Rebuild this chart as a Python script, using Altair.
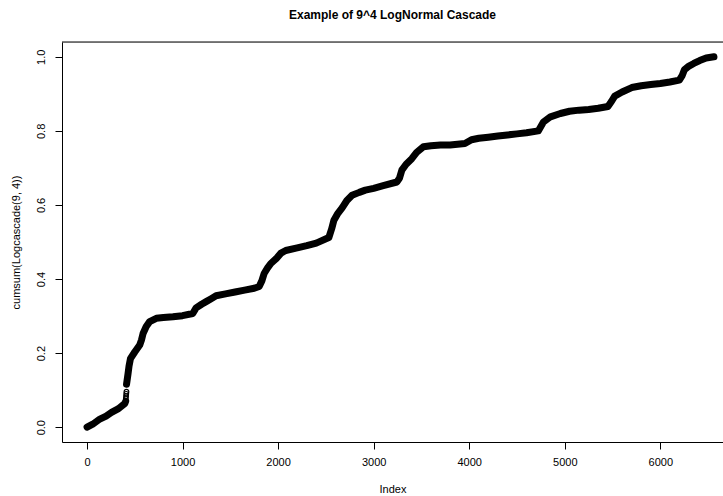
import altair as alt
import pandas as pd

# Cumulative sum (index, value)
idx_a = [1, 60, 135, 200, 257, 330, 396, 405]
val_a = [0.000, 0.008, 0.022, 0.030, 0.040, 0.050, 0.064, 0.070]

idx_jump = [407, 409, 411, 413]
val_jump = [0.078, 0.084, 0.090, 0.096]

idx_b = [414, 430, 440, 455, 500, 552, 570, 587, 620, 656, 726, 800, 900, 1000,
         1107, 1142, 1200, 1247, 1300, 1351, 1450, 1550, 1650, 1750, 1802, 1830,
         1854, 1890, 1924, 1980, 2030, 2080, 2200, 2300, 2400, 2531, 2560, 2583,
         2620, 2670, 2720, 2774, 2850, 2913, 3000, 3100, 3243, 3270, 3295, 3340,
         3399, 3450, 3521, 3600, 3700, 3800, 3955, 4024, 4101, 4200, 4300, 4400,
         4500, 4600, 4723, 4750, 4777, 4850, 4954, 5050, 5150, 5250, 5350, 5452,
         5490, 5523, 5600, 5701, 5800, 5900, 6000, 6100, 6199, 6230, 6252, 6300,
         6350, 6412, 6480, 6561]
val_b = [0.116, 0.145, 0.165, 0.185, 0.203, 0.222, 0.235, 0.253, 0.272, 0.285,
         0.294, 0.296, 0.298, 0.301, 0.307, 0.322, 0.332, 0.339, 0.347, 0.355,
         0.360, 0.365, 0.370, 0.375, 0.380, 0.395, 0.415, 0.430, 0.442, 0.455,
         0.470, 0.477, 0.484, 0.490, 0.497, 0.512, 0.535, 0.558, 0.575, 0.592,
         0.612, 0.626, 0.634, 0.640, 0.645, 0.652, 0.662, 0.672, 0.694, 0.710,
         0.725, 0.742, 0.757, 0.760, 0.762, 0.762, 0.766, 0.776, 0.780, 0.783,
         0.786, 0.789, 0.792, 0.795, 0.800, 0.812, 0.824, 0.838, 0.847, 0.853,
         0.856, 0.858, 0.861, 0.866, 0.880, 0.894, 0.905, 0.917, 0.922, 0.925,
         0.928, 0.932, 0.937, 0.950, 0.965, 0.975, 0.982, 0.990, 0.997, 1.000]

x_ticks = [0, 1000, 2000, 3000, 4000, 5000, 6000]
y_ticks = [0.0, 0.2, 0.4, 0.6, 0.8, 1.0]

title_text = "Example of 9^4 LogNormal Cascade"
x_title = "Index"
y_title = "cumsum(Logcascade(9, 4))"

line_df = pd.DataFrame({
    "Index": idx_a + idx_b,
    "value": val_a + val_b,
    "seg": ["a"] * len(idx_a) + ["b"] * len(idx_b),
})
jump_df = pd.DataFrame({"Index": idx_jump, "value": val_jump})

W, H = 661, 400
FONT = "Liberation Sans"

xscale = alt.Scale(domain=[-261.4, 6656], nice=False, zero=False)
yscale = alt.Scale(domain=[-0.04, 1.04], nice=False, zero=False)

xaxis = alt.Axis(values=x_ticks, format="d", title=x_title, grid=False,
                 domain=True, domainColor="black", domainWidth=1,
                 tickColor="black", tickSize=7, tickWidth=1,
                 labelFont=FONT, labelFontSize=11, labelColor="black",
                 labelPadding=7, labelFlush=False,
                 titleFont=FONT, titleFontSize=11, titleFontWeight="normal",
                 titleColor="black", titleY=47, titleBaseline="middle")
yaxis = alt.Axis(values=y_ticks, format=".1f", title=y_title, grid=False,
                 domain=True, domainColor="black", domainWidth=1,
                 tickColor="black", tickSize=7, tickWidth=1,
                 labelFont=FONT, labelFontSize=11, labelColor="black",
                 labelAngle=270, labelAlign="center", labelBaseline="bottom",
                 labelPadding=9,
                 titleFont=FONT, titleFontSize=11, titleFontWeight="normal",
                 titleColor="black", titleAngle=270, titleX=-46, titleY=H / 2,
                 titleAlign="center", titleBaseline="middle")

line = alt.Chart(line_df).mark_line(
    color="black", strokeWidth=7, strokeCap="round", strokeJoin="round"
).encode(
    x=alt.X("Index:Q", scale=xscale, axis=xaxis),
    y=alt.Y("value:Q", scale=yscale, axis=yaxis),
    detail="seg:N",
)

pts = alt.Chart(jump_df).mark_point(
    shape="circle", filled=False, color="black", size=22, strokeWidth=1.2, opacity=1
).encode(
    x=alt.X("Index:Q", scale=xscale),
    y=alt.Y("value:Q", scale=yscale),
)

border = alt.Chart(pd.DataFrame({"a": [0]})).mark_rule(
    color="black", strokeWidth=1
).encode(x=alt.value(0), x2=alt.value(W), y=alt.value(0))

chart = alt.layer(line, pts, border).properties(
    width=W, height=H,
    autosize=alt.AutoSizeParams(type="none"),
    padding={"left": 62, "top": 42, "right": 0, "bottom": 54},
    title=alt.TitleParams(text=title_text, font=FONT, fontSize=12,
                          fontWeight="bold", color="black", anchor="middle",
                          baseline="middle", offset=15),
).configure_view(stroke=None).configure(background="white")

chart.save("out.html", embed_options={"renderer": "svg", "actions": False})
